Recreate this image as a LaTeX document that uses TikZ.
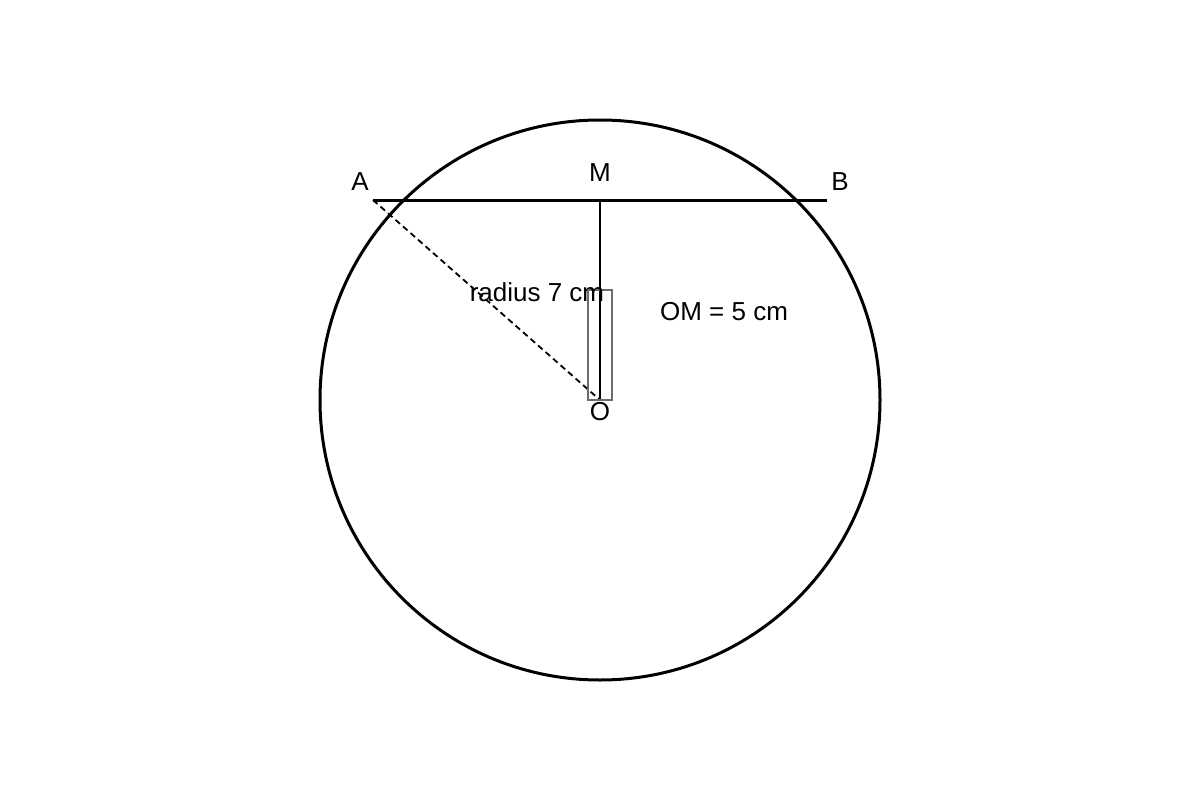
\documentclass[tikz,border=0pt]{standalone}
\usepackage{fontspec}
\setmainfont{Liberation Sans}
\begin{document}
\begin{tikzpicture}[x=1pt,y=-1pt,
  lbl/.style={anchor=base,inner sep=0pt,font=\fontsize{26}{30}\selectfont},
  pt/.style={inner sep=0pt,minimum size=0pt}]
\useasboundingbox (0,0) rectangle (1200,800);
\fill[white] (0,0) rectangle (1200,800);
\coordinate (O) at (600,400);
\coordinate (M) at (600,200);
\coordinate (A) at (373,200);
\coordinate (B) at (827,200);
\draw[line width=3pt] (O) circle[radius=280];
\draw[line width=3pt] (A) -- (B);
\draw[line width=2.2pt] (M) -- (O);
\draw[line width=1.8pt,dash pattern=on 6pt off 4pt] (A) -- (O);
\draw[gray!85!black,line width=1.3pt] (588,290) rectangle (612,400);
\node[lbl] (lA) at (360,190) {A};
\node[lbl] (lM) at (600,181) {M};
\node[lbl] (lB) at (840,190) {B};
\node[lbl] (lO) at (600,420) {O};
\node[lbl] (lr) at (537,301) {radius 7 cm};
\node[lbl] (lom) at (724,320) {OM = 5 cm};
\end{tikzpicture}
\end{document}
